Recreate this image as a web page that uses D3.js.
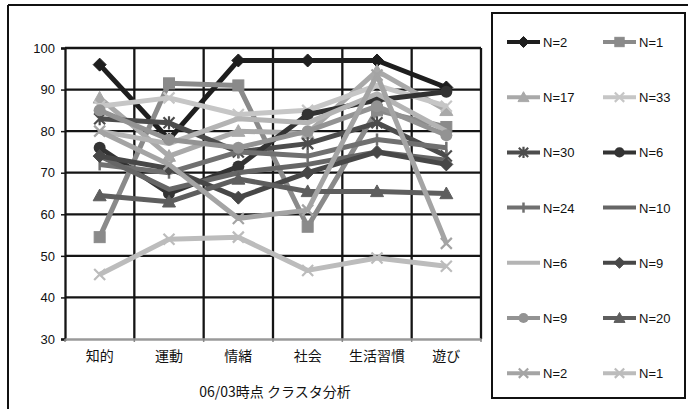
<!DOCTYPE html>
<html>
<head>
<meta charset="utf-8">
<script src="https://cdn.jsdelivr.net/npm/d3@7"></script>
<style>
  html, body { margin: 0; padding: 0; background: #fff; }
  svg { display: block; }
</style>
</head>
<body>
<svg id="chart" width="688" height="409"></svg>
<script>
// Categories along the x axis
const categories = ["知的", "運動", "情緒", "社会", "生活習慣", "遊び"];
// Y axis tick values
const yTicks = [30, 40, 50, 60, 70, 80, 90, 100];
// Cluster labels, in legend order (two columns, row by row)
const seriesNames = ["N=2", "N=1", "N=17", "N=33", "N=30", "N=6", "N=24",
                     "N=10", "N=6", "N=9", "N=9", "N=20", "N=2", "N=1"];
// Scores of each cluster per category
const s01 = [96, 78, 97, 97, 97, 90.5];
const s02 = [54.5, 91.5, 91, 57, 85, 81];
const s03 = [88, 74, 80, 79.5, 94.5, 85];
const s04 = [86, 88, 84, 85, 91, 86];
const s05 = [83, 82, 75, 77, 82, 74];
const s06 = [76, 65, 71.5, 84, 87.5, 89.5];
const s07 = [72, 70, 75, 74, 78, 76];
const s08 = [74, 66, 70, 72, 75, 73];
const s09 = [80, 77, 83, 82, 89, 80];
const s10 = [74, 71, 64, 70, 75, 72];
const s11 = [85, 78, 76, 80, 86, 79];
const s12 = [64.5, 63, 68.5, 65.5, 65.5, 65];
const s13 = [80, 72, 59, 61, 93.5, 53];
const s14 = [45.5, 54, 54.5, 46.5, 49.5, 47.5];
const seriesValues = [s01, s02, s03, s04, s05, s06, s07, s08, s09, s10, s11, s12, s13, s14];

// Line colour and marker type per series
const styles = [
  { color: "#1e1e1e", marker: "diamond" },
  { color: "#8a8a8a", marker: "square" },
  { color: "#a9a9a9", marker: "triangle" },
  { color: "#c6c6c6", marker: "x" },
  { color: "#4c4c4c", marker: "star" },
  { color: "#333333", marker: "circle" },
  { color: "#707070", marker: "plus" },
  { color: "#666666", marker: "none" },
  { color: "#b4b4b4", marker: "none" },
  { color: "#474747", marker: "diamond" },
  { color: "#939393", marker: "circle" },
  { color: "#5e5e5e", marker: "triangle" },
  { color: "#a4a4a4", marker: "x" },
  { color: "#bcbcbc", marker: "x" }
];

const svg = d3.select("#chart");

// Outer chart frame (top and left edges visible)
svg.append("line").attr("x1", 8).attr("y1", 5).attr("x2", 688).attr("y2", 5)
  .attr("stroke", "#111").attr("stroke-width", 2);
svg.append("line").attr("x1", 8).attr("y1", 5).attr("x2", 8).attr("y2", 409)
  .attr("stroke", "#111").attr("stroke-width", 2);

const plot = { left: 65, right: 481, top: 48, bottom: 339 };

const x = d3.scaleBand().domain(categories).range([plot.left, plot.right]).padding(0);
const y = d3.scaleLinear().domain([30, 100]).range([plot.bottom, plot.top]);

// Horizontal gridlines
svg.append("g").selectAll("line").data(yTicks.filter(t => t > 30)).join("line")
  .attr("x1", plot.left).attr("x2", plot.right)
  .attr("y1", d => y(d)).attr("y2", d => y(d))
  .attr("stroke", "#151515").attr("stroke-width", 2.3);

// Vertical gridlines at category boundaries
const bounds = categories.map(c => x(c)).concat([plot.right]);
svg.append("g").selectAll("line").data(bounds.slice(1)).join("line")
  .attr("x1", d => d).attr("x2", d => d)
  .attr("y1", plot.top).attr("y2", plot.bottom)
  .attr("stroke", "#151515").attr("stroke-width", 2.3);

// Y axis
const yAxis = svg.append("g").attr("transform", `translate(${plot.left},0)`)
  .call(d3.axisLeft(y).tickValues(yTicks).tickSize(4).tickPadding(6));
yAxis.select(".domain").attr("stroke", "#151515").attr("stroke-width", 2.3);
yAxis.selectAll(".tick line").attr("stroke", "#151515").attr("stroke-width", 1.5);
yAxis.selectAll("text").attr("font-family", "'Liberation Sans', Arial, sans-serif")
  .attr("font-size", 13).attr("fill", "#111");

// X axis
const xAxis = svg.append("g").attr("transform", `translate(0,${plot.bottom})`)
  .call(d3.axisBottom(x).tickSize(0).tickPadding(12));
xAxis.select(".domain").attr("stroke", "#9a9a9a").attr("stroke-width", 2.5);
xAxis.selectAll("text").attr("font-family", "'Noto Sans CJK JP', sans-serif")
  .attr("font-size", 14).attr("fill", "#111");
svg.append("g").selectAll("line").data(bounds).join("line")
  .attr("x1", d => d).attr("x2", d => d)
  .attr("y1", plot.bottom).attr("y2", plot.bottom + 3)
  .attr("stroke", "#888").attr("stroke-width", 1.5);

// Axis title
svg.append("text").attr("x", 275).attr("y", 397).attr("text-anchor", "middle")
  .attr("font-family", "'Noto Sans CJK JP', sans-serif").attr("font-size", 14)
  .attr("fill", "#111").text("06/03時点 クラスタ分析");

// Marker drawing
function drawMarker(g, type, cx, cy, color, scale) {
  const s = scale || 1;
  if (type === "none") return;
  if (type === "diamond") {
    const r = 6.5 * s;
    g.append("path").attr("d", `M${cx},${cy - r}L${cx + r},${cy}L${cx},${cy + r}L${cx - r},${cy}Z`)
      .attr("fill", color).attr("stroke", color);
  } else if (type === "square") {
    const r = 5.5 * s;
    g.append("rect").attr("x", cx - r).attr("y", cy - r).attr("width", 2 * r).attr("height", 2 * r)
      .attr("fill", color).attr("stroke", color);
  } else if (type === "triangle") {
    const r = 6.5 * s;
    g.append("path").attr("d", `M${cx},${cy - r}L${cx + r},${cy + r * 0.8}L${cx - r},${cy + r * 0.8}Z`)
      .attr("fill", color).attr("stroke", color);
  } else if (type === "circle") {
    g.append("circle").attr("cx", cx).attr("cy", cy).attr("r", 6 * s).attr("fill", color);
  } else if (type === "x") {
    const r = 5.5 * s;
    g.append("path").attr("d", `M${cx - r},${cy - r}L${cx + r},${cy + r}M${cx - r},${cy + r}L${cx + r},${cy - r}`)
      .attr("stroke", color).attr("stroke-width", 2.2).attr("fill", "none");
  } else if (type === "star") {
    const r = 5.5 * s;
    g.append("path").attr("d", `M${cx - r},${cy - r}L${cx + r},${cy + r}M${cx - r},${cy + r}L${cx + r},${cy - r}M${cx},${cy - r * 1.2}L${cx},${cy + r * 1.2}`)
      .attr("stroke", color).attr("stroke-width", 2.2).attr("fill", "none");
  } else if (type === "plus") {
    const r = 6 * s;
    g.append("path").attr("d", `M${cx},${cy - r}L${cx},${cy + r}`)
      .attr("stroke", color).attr("stroke-width", 2.5).attr("fill", "none");
  }
}

// Series lines and markers
const line = d3.line()
  .x((d, i) => x(categories[i]) + x.bandwidth() / 2)
  .y(d => y(d));

const seriesG = svg.append("g");
seriesValues.forEach((vals, k) => {
  const st = styles[k];
  const g = seriesG.append("g");
  g.append("path").datum(vals).attr("d", line)
    .attr("fill", "none").attr("stroke", st.color).attr("stroke-width", 5)
    .attr("stroke-linejoin", "round");
  vals.forEach((v, i) => {
    drawMarker(g, st.marker, x(categories[i]) + x.bandwidth() / 2, y(v), st.color, 1);
  });
});

// Legend
const legend = svg.append("g");
legend.append("rect").attr("x", 492).attr("y", 13).attr("width", 193).attr("height", 385)
  .attr("fill", "#fff").attr("stroke", "#111").attr("stroke-width", 2);

seriesNames.forEach((name, k) => {
  const col = k % 2, row = Math.floor(k / 2);
  const lx = col === 0 ? 507 : 603;
  const ly = 42 + row * 55.2;
  const st = styles[k];
  legend.append("line").attr("x1", lx).attr("x2", lx + 33).attr("y1", ly).attr("y2", ly)
    .attr("stroke", st.color).attr("stroke-width", 4);
  drawMarker(legend, st.marker, lx + 16.5, ly, st.color, 0.85);
  legend.append("text").attr("x", lx + 36).attr("y", ly + 5)
    .attr("font-family", "'Liberation Sans', Arial, sans-serif").attr("font-size", 13)
    .attr("fill", "#111").text(name);
});
</script>
</body>
</html>
